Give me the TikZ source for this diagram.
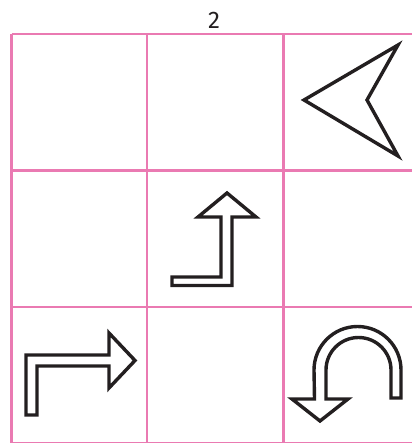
\documentclass[tikz,border=0pt]{standalone}
\usepackage{fontspec}
\setmainfont{Fira Sans}
\definecolor{gridpink}{RGB}{234,122,178}
\definecolor{ink}{RGB}{35,31,32}
\begin{document}
\begin{tikzpicture}[x=1pt,y=-1pt,
  gridline/.style={draw=gridpink,line width=2.5pt},
  shapeline/.style={draw=ink,line width=3.4pt,line join=miter,fill=white}]
\useasboundingbox (0,0) rectangle (411,443);
% grid
\draw[gridline] (11.5,34) -- (420,34);
\draw[gridline] (11.5,170.5) -- (420,170.5);
\draw[gridline] (11.5,307) -- (420,307);
\draw[gridline] (11.5,443) -- (420,443);
\draw[gridline] (11.5,34) -- (11.5,444);
\draw[gridline] (147,34) -- (147,444);
\draw[gridline] (283.5,34) -- (283.5,444);
\draw[gridline] (419.5,34) -- (419.5,444);
% label
\node[font=\fontsize{24}{26}\selectfont,text=ink,inner sep=0pt] (lbl) at (214,20) {2};
% top-right arrowhead
\draw[shapeline] (304,100) -- (398,45) -- (367,100) -- (398,156) -- cycle;
% middle: up arrow with left foot
\draw[shapeline] (227,193) -- (256,217) -- (232,217) -- (232,285.5) -- (172,285.5)
  -- (172,277) -- (221,277) -- (221,217) -- (198,217) -- cycle;
% bottom-left: bent right arrow
\draw[shapeline] (26,415) -- (26,355) -- (109,355) -- (109,333) -- (135,360.5)
  -- (109,388) -- (109,366) -- (37,366) -- (37,415) -- cycle;
% bottom-right: U-turn
\draw[shapeline] (401,398) -- (401,370) arc(0:-180:43.5) -- (314.5,399) -- (292,399)
  -- (320,421) -- (348,399) -- (326,399) -- (326,370) arc(180:360:32.5)
  -- (391,398) -- cycle;
\end{tikzpicture}
\end{document}
